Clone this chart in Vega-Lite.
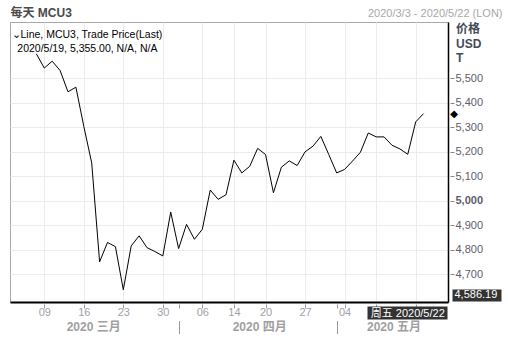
{
  "$schema": "https://vega.github.io/schema/vega-lite/v6.json",
  "width": 438,
  "height": 280,
  "autosize": {"type": "none"},
  "padding": {"left": 10, "top": 22, "right": 60, "bottom": 51},
  "background": "#ffffff",
  "config": {
    "font": "Liberation Sans",
    "view": {"stroke": "#a8a8a8", "strokeWidth": 1},
    "axis": {"labelFont": "Liberation Sans, Noto Sans CJK SC", "titleFont": "Liberation Sans, Noto Sans CJK SC"}
  },
  "data": {
    "values": [
      {"date": "2020-03-03", "price": null},
      {"date": "2020-03-04", "price": null},
      {"date": "2020-03-05", "price": null},
      {"date": "2020-03-06", "price": 5599},
      {"date": "2020-03-09", "price": 5541},
      {"date": "2020-03-10", "price": 5569},
      {"date": "2020-03-11", "price": 5531},
      {"date": "2020-03-12", "price": 5444},
      {"date": "2020-03-13", "price": 5463},
      {"date": "2020-03-16", "price": 5303},
      {"date": "2020-03-17", "price": 5154},
      {"date": "2020-03-18", "price": 4750},
      {"date": "2020-03-19", "price": 4829},
      {"date": "2020-03-20", "price": 4812},
      {"date": "2020-03-23", "price": 4636},
      {"date": "2020-03-24", "price": 4815},
      {"date": "2020-03-25", "price": 4856},
      {"date": "2020-03-26", "price": 4808},
      {"date": "2020-03-27", "price": 4792},
      {"date": "2020-03-30", "price": 4774},
      {"date": "2020-03-31", "price": 4953},
      {"date": "2020-04-01", "price": 4804},
      {"date": "2020-04-02", "price": 4903},
      {"date": "2020-04-03", "price": 4842},
      {"date": "2020-04-06", "price": 4883},
      {"date": "2020-04-07", "price": 5043},
      {"date": "2020-04-08", "price": 5005},
      {"date": "2020-04-09", "price": 5024},
      {"date": "2020-04-14", "price": 5165},
      {"date": "2020-04-15", "price": 5113},
      {"date": "2020-04-16", "price": 5140},
      {"date": "2020-04-17", "price": 5213},
      {"date": "2020-04-20", "price": 5188},
      {"date": "2020-04-21", "price": 5032},
      {"date": "2020-04-22", "price": 5136},
      {"date": "2020-04-23", "price": 5162},
      {"date": "2020-04-24", "price": 5143},
      {"date": "2020-04-27", "price": 5199},
      {"date": "2020-04-28", "price": 5222},
      {"date": "2020-04-29", "price": 5262},
      {"date": "2020-04-30", "price": 5188},
      {"date": "2020-05-01", "price": 5113},
      {"date": "2020-05-04", "price": 5127},
      {"date": "2020-05-05", "price": 5161},
      {"date": "2020-05-06", "price": 5197},
      {"date": "2020-05-07", "price": 5276},
      {"date": "2020-05-11", "price": 5260},
      {"date": "2020-05-12", "price": 5260},
      {"date": "2020-05-13", "price": 5226},
      {"date": "2020-05-14", "price": 5211},
      {"date": "2020-05-15", "price": 5189},
      {"date": "2020-05-18", "price": 5321},
      {"date": "2020-05-19", "price": 5355},
      {"date": "2020-05-20", "price": null},
      {"date": "2020-05-21", "price": null},
      {"date": "2020-05-22", "price": null}
    ]
  },
  "resolve": {"axis": {"x": "independent", "y": "independent"}},
  "layer": [
    {
      "mark": {"type": "line", "color": "#000000", "strokeWidth": 1},
      "encoding": {
        "x": {
          "field": "date", "type": "ordinal",
          "scale": {"type": "point", "padding": 0.215, "align": 0.79},
          "axis": {
            "orient": "bottom", "title": null,
            "values": ["2020-03-09", "2020-03-16", "2020-03-23", "2020-03-30", "2020-04-06", "2020-04-14", "2020-04-20", "2020-04-27", "2020-05-04", "2020-05-11", "2020-05-18"],
            "labelExpr": "(datum.value == '2020-05-11' || datum.value == '2020-05-18') ? '' : slice(datum.value, 8)",
            "domain": false, "offset": 2, "tickSize": 4, "tickColor": "#999999",
            "labelPadding": -1.5, "labelColor": "#a0a0a8", "labelFontSize": 11, "labelAngle": 0, "labelBaseline": "top",
            "grid": true, "gridColor": "#ececec"
          }
        },
        "y": {
          "field": "price", "type": "quantitative",
          "scale": {"domain": [4586, 5729], "nice": false, "zero": false},
          "axis": {
            "orient": "right",
            "values": [4700, 4800, 4900, 5000, 5100, 5200, 5300, 5400, 5500],
            "format": ",d",
            "domain": false, "offset": 2, "tickSize": 4, "tickColor": "#888888",
            "labelPadding": 1, "labelColor": "#5c5c6c", "labelFontSize": 11,
            "labelFontWeight": {"condition": {"test": "datum.value == 5000", "value": "bold"}, "value": "normal"},
            "grid": true, "gridColor": "#ececec",
            "title": ["价格", "USD", "T"],
            "titleAngle": 0, "titleAlign": "left", "titleBaseline": "alphabetic",
            "titleX": 5.5, "titleY": 10.5, "titleFontSize": 12, "titleFontWeight": "bold",
            "titleColor": "#444a5a", "titleLineHeight": 14.5
          }
        }
      }
    },
    {
      "mark": {"type": "point", "opacity": 0},
      "encoding": {
        "x": {
          "field": "date", "type": "ordinal",
          "scale": {"type": "point", "padding": 0.215, "align": 0.79},
          "axis": {
            "orient": "bottom", "title": null,
            "values": ["2020-03-17", "2020-04-17", "2020-05-13"],
            "labelExpr": "datum.value == '2020-03-17' ? '2020 三月' : (datum.value == '2020-04-17' ? '2020 四月' : '2020 五月')",
            "ticks": false, "tickSize": 0, "domain": false, "grid": false,
            "labelPadding": 19, "labelFontSize": 12, "labelFontWeight": "bold", "labelColor": "#a0a0a0",
            "labelAngle": 0, "labelBaseline": "top", "labelOffset": 1.5
          }
        },
        "y": {
          "field": "price", "type": "quantitative",
          "scale": {"domain": [4586, 5729], "nice": false, "zero": false},
          "axis": {
            "orient": "right", "title": null,
            "values": [5355], "labelExpr": "'◆'",
            "ticks": false, "tickSize": 0, "domain": false, "grid": false,
            "labelPadding": 5.5, "labelAlign": "center", "labelFontSize": 10,
            "labelColor": "#000000", "labelFont": "DejaVu Sans"
          }
        }
      }
    },
    {
      "mark": {"type": "point", "opacity": 0},
      "encoding": {
        "x": {
          "field": "date", "type": "ordinal",
          "scale": {"type": "point", "padding": 0.215, "align": 0.79},
          "axis": {
            "orient": "bottom", "title": null,
            "values": ["2020-04-01", "2020-05-01"],
            "labels": false, "domain": false, "grid": false,
            "offset": 2, "tickSize": 4, "tickColor": "#999999"
          }
        },
        "y": {
          "field": "price", "type": "quantitative",
          "scale": {"domain": [4586, 5729], "nice": false, "zero": false},
          "axis": {
            "orient": "right", "title": null,
            "values": [4586.19], "format": ",.2f",
            "domain": false, "grid": false,
            "offset": 4, "tickSize": 49, "tickWidth": 12, "tickColor": "#333333", "tickOffset": -7,
            "labelPadding": -47, "labelColor": "#ffffff", "labelFontSize": 11
          }
        }
      }
    },
    {
      "mark": {"type": "point", "opacity": 0},
      "encoding": {
        "x": {
          "field": "date", "type": "ordinal",
          "scale": {"type": "point", "padding": 0.215, "align": 0.79},
          "axis": {
            "orient": "bottom", "title": null,
            "values": ["2020-04-01", "2020-05-01"],
            "labels": false, "domain": false, "grid": false,
            "offset": 18.5, "tickSize": 13, "tickColor": "#999999"
          }
        },
        "y": {
          "field": "price", "type": "quantitative",
          "scale": {"domain": [4586, 5729], "nice": false, "zero": false},
          "axis": {
            "orient": "right", "title": null,
            "domain": true, "domainColor": "#000000", "domainWidth": 1.5,
            "ticks": false, "labels": false, "grid": false
          }
        }
      }
    },
    {
      "mark": {"type": "point", "opacity": 0},
      "encoding": {
        "x": {
          "field": "date", "type": "ordinal",
          "scale": {"type": "point", "padding": 0.215, "align": 0.79},
          "axis": {
            "orient": "bottom", "title": null,
            "values": ["2020-05-22"], "labelExpr": "'周五 2020/5/22'",
            "domain": false, "grid": false,
            "offset": 4, "tickSize": 13, "tickWidth": 80, "tickColor": "#333333", "tickOffset": -40,
            "labelPadding": -12, "labelColor": "#ffffff", "labelFontSize": 11, "labelBaseline": "top", "labelAngle": 0
          }
        },
        "y": {
          "field": "price", "type": "quantitative",
          "scale": {"domain": [4586, 5729], "nice": false, "zero": false},
          "axis": null
        }
      }
    },
    {
      "mark": {"type": "point", "opacity": 0},
      "encoding": {
        "x": {
          "field": "date", "type": "ordinal",
          "scale": {"type": "point", "padding": 0.215, "align": 0.79},
          "axis": {
            "orient": "top", "labels": false, "ticks": false, "domain": false, "grid": false,
            "title": "2020/3/3 - 2020/5/22 (LON)",
            "titleX": 492, "titleY": -6, "titleAlign": "right", "titleBaseline": "alphabetic",
            "titleFontSize": 11, "titleFontWeight": "normal", "titleColor": "#a8a8a8"
          }
        },
        "y": {
          "field": "price", "type": "quantitative",
          "scale": {"domain": [4586, 5729], "nice": false, "zero": false},
          "axis": null
        }
      }
    },
    {
      "mark": {"type": "point", "opacity": 0},
      "encoding": {
        "x": {
          "field": "date", "type": "ordinal",
          "scale": {"type": "point", "padding": 0.215, "align": 0.79},
          "axis": {
            "orient": "top", "labels": false, "ticks": false, "domain": false, "grid": false,
            "title": ["⌄Line, MCU3, Trade Price(Last)", "\u200b\u00a0\u00a02020/5/19, 5,355.00, N/A, N/A"],
            "titleX": 1, "titleY": 15.3, "titleAlign": "left", "titleBaseline": "alphabetic",
            "titleFontSize": 10.5, "titleFontWeight": "normal", "titleColor": "#000000", "titleLineHeight": 14
          }
        },
        "y": {
          "field": "price", "type": "quantitative",
          "scale": {"domain": [4586, 5729], "nice": false, "zero": false},
          "axis": null
        }
      }
    },
    {
      "mark": {"type": "point", "opacity": 0},
      "encoding": {
        "x": {
          "field": "date", "type": "ordinal",
          "scale": {"type": "point", "padding": 0.215, "align": 0.79},
          "axis": {
            "orient": "top", "labels": false, "ticks": false, "domain": false, "grid": false,
            "title": "每天 MCU3",
            "titleX": 0, "titleY": -5.5, "titleAlign": "left", "titleBaseline": "alphabetic",
            "titleFontSize": 12, "titleFontWeight": "bold", "titleColor": "#4a4a4a"
          }
        },
        "y": {
          "field": "price", "type": "quantitative",
          "scale": {"domain": [4586, 5729], "nice": false, "zero": false},
          "axis": null
        }
      }
    },
    {
      "mark": {"type": "point", "opacity": 0},
      "encoding": {
        "x": {
          "field": "date", "type": "ordinal",
          "scale": {"type": "point", "padding": 0.215, "align": 0.79},
          "axis": {
            "orient": "bottom", "title": null,
            "domain": true, "domainColor": "#000000", "domainWidth": 2,
            "ticks": false, "labels": false, "grid": false
          }
        },
        "y": {
          "field": "price", "type": "quantitative",
          "scale": {"domain": [4586, 5729], "nice": false, "zero": false},
          "axis": null
        }
      }
    }
  ]
}
